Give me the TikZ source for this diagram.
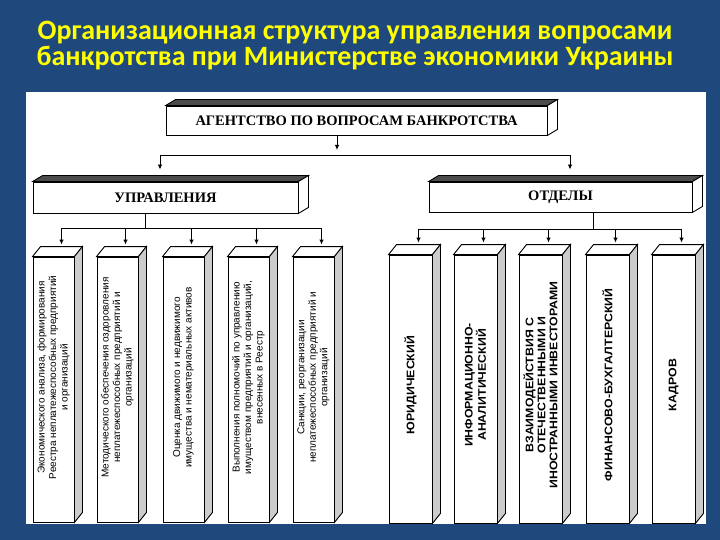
\documentclass[tikz,border=0pt]{standalone}
\usepackage{fontspec}
\setmainfont{Liberation Serif}
\setsansfont{Liberation Sans}
\newfontfamily\titlefont{Carlito}
\newfontfamily\capsfont[FakeStretch=1.12]{Liberation Sans}
\usetikzlibrary{arrows.meta,calc,positioning}
\definecolor{slideblue}{RGB}{31,73,125}
\definecolor{titleyellow}{RGB}{255,255,0}

\begin{document}
\begin{tikzpicture}[
  x=1pt, y=-1pt,
  > = {Latex[length=5pt,width=4.5pt]},
  line width=0.9pt,
  bar/.style = {draw, fill=white, inner sep=0pt, font=\rmfamily\bfseries\fontsize{14.5}{14.5}\selectfont},
  pillar/.style = {draw, fill=white, inner sep=0pt},
  lowtext/.style = {rotate=90, align=center, xshift=12pt, font=\sffamily\fontsize{10}{11.5}\selectfont},
  captext/.style = {rotate=90, align=center, xshift=4pt, font=\capsfont\bfseries\fontsize{11}{12}\selectfont},
  topface/.style = {draw, fill=black!70},
  sideface/.style = {draw, fill=white},
  pillartop/.style = {draw, fill=white},
  pillarside/.style = {draw, fill=black!20}
  ]
	\fill[slideblue] (0,0) rectangle (720,540);
	\fill[white] (26,92) rectangle (706,524);

	\node[font=\titlefont\bfseries\fontsize{28}{26}\selectfont, text=titleyellow, align=center, inner sep=0pt] (title) at (355,46)
		{Организационная структура управления вопросами\\банкротства при Министерстве экономики Украины};

	% headers
	\node[bar, minimum width=381pt, minimum height=29pt] (agency) at (356.5,120.5) {АГЕНТСТВО ПО ВОПРОСАМ БАНКРОТСТВА};
	\node[bar, minimum width=265pt, minimum height=31pt] (upr) at (165.5,197.5) {УПРАВЛЕНИЯ};
	\node[bar, minimum width=263pt, minimum height=30pt] (otd) at (560.5,197) {ОТДЕЛЫ};

	% управления
	\node[pillar, minimum width=41pt, minimum height=265pt, label={[lowtext]center:{Экономического анализа, формирования\\Реестра неплатежеспособных предприятий\\и организаций}}] (u1) at (53.5,389.5) {};
	\node[pillar, minimum width=41pt, minimum height=265pt, label={[lowtext]center:{Методического обеспечения оздоровления\\неплатежеспособных предприятий и\\организаций}}] (u2) at (117.5,389.5) {};
	\node[pillar, minimum width=41pt, minimum height=265pt, label={[lowtext]center:{Оценка движимого и недвижимого\\имущества и нематериальных активов}}] (u3) at (183.5,389.5) {};
	\node[pillar, minimum width=41pt, minimum height=265pt, label={[lowtext]center:{Выполнения полномочий по управлению\\имуществом предприятий и организаций,\\внесенных в Реестр}}] (u4) at (248.5,389.5) {};
	\node[pillar, minimum width=41pt, minimum height=265pt, label={[lowtext]center:{Санкции, реорганизации\\неплатежеспособных предприятий и\\организаций}}] (u5) at (313.5,389.5) {};

	% отделы
	\node[pillar, minimum width=43pt, minimum height=268pt, label={[captext]center:{ЮРИДИЧЕСКИЙ}}] (o1) at (410.5,389) {};
	\node[pillar, minimum width=43pt, minimum height=268pt, label={[captext]center:{ИНФОРМАЦИОННО-\\АНАЛИТИЧЕСКИЙ}}] (o2) at (475.5,389) {};
	\node[pillar, minimum width=43pt, minimum height=268pt, label={[captext]center:{ВЗАИМОДЕЙСТВИЯ С\\ОТЕЧЕСТВЕННЫМИ И\\ИНОСТРАННЫМИ ИНВЕСТОРАМИ}}] (o3) at (540.5,389) {};
	\node[pillar, minimum width=43pt, minimum height=268pt, label={[captext]center:{ФИНАНСОВО-БУХГАЛТЕРСКИЙ}}] (o4) at (607.5,389) {};
	\node[pillar, minimum width=43pt, minimum height=268pt, label={[captext]center:{КАДРОВ}}] (o5) at (673.5,389) {};

	% 3d faces
	\foreach \n in {agency,upr,otd}{
		\draw[topface] (\n.north west) -- ++(10,-6) -- ([shift={(10,-6)}]\n.north east) -- (\n.north east) -- cycle;
		\draw[sideface] (\n.north east) -- ++(10,-6) -- ([shift={(10,-6)}]\n.south east) -- (\n.south east) -- cycle;
		\coordinate (\n-in) at ([shift={(10,-6)}]\n.north);
	}
	\foreach \n in {u1,u2,u3,u4,u5,o1,o2,o3,o4,o5}{
		\draw[pillartop] (\n.north west) -- ++(8,-10) -- ([shift={(8,-10)}]\n.north east) -- (\n.north east) -- cycle;
		\draw[pillarside] (\n.north east) -- ++(8,-10) -- ([shift={(8,-10)}]\n.south east) -- (\n.south east) -- cycle;
		\coordinate (\n-in) at ([shift={(8,-10)}]\n.north);
	}

	% connectors
	\coordinate (hub) at (337,155);
	\coordinate (busL) at (160,155);
	\coordinate (busR) at (570,155);
	\draw[->, shorten >=5pt] (agency.south -| hub) -- (hub);
	\draw (busL) -- (busR);
	\draw[->, shorten >=6pt] (busL) -- (busL |- upr-in);
	\draw[->, shorten >=6pt] (busR) -- (busR |- otd-in);

	\coordinate (uhub) at (145,228);
	\coordinate (ohub) at (593,229);
	\draw (upr.south -| uhub) -- (uhub);
	\draw (otd.south -| ohub) -- (ohub);
	\draw (u1-in |- uhub) -- (u5-in |- uhub);
	\draw (o1-in |- ohub) -- (o5-in |- ohub);
	\foreach \n in {u1,u2,u3,u4,u5}
		\draw[->, shorten >=2pt] (\n-in |- uhub) -- (\n-in);
	\foreach \n in {o1,o2,o3,o4,o5}
		\draw[->, shorten >=2pt] (\n-in |- ohub) -- (\n-in);
\end{tikzpicture}
\end{document}
